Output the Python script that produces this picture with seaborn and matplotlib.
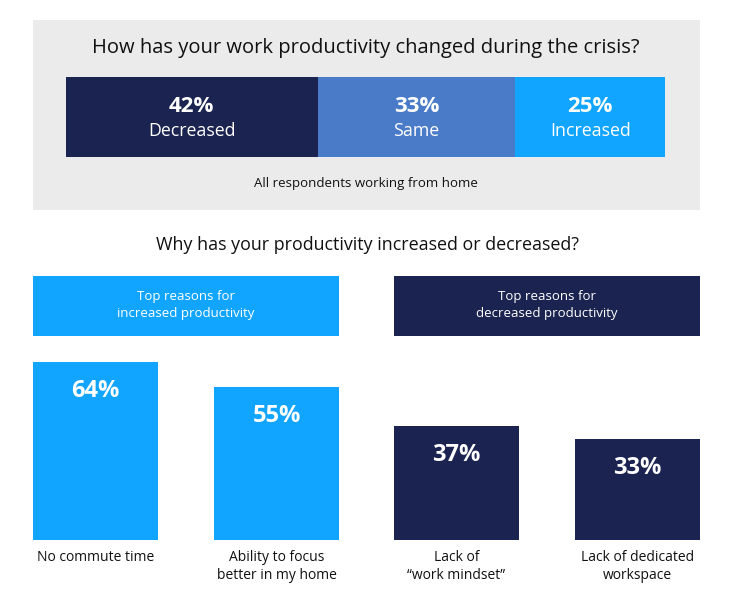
import numpy as np
import matplotlib
matplotlib.use("Agg")
import matplotlib.pyplot as plt
from matplotlib.patches import Rectangle
import seaborn as sns

# overall change in productivity (stacked bar)
split_labels = ["Decreased", "Same", "Increased"]
split_values = [42, 33, 25]

# reasons
inc_reasons = ["No commute time", "Ability to focus\nbetter in my home"]
inc_values = [64, 55]
dec_reasons = ["Lack of\n\u201cwork mindset\u201d", "Lack of dedicated\nworkspace"]
dec_values = [37, 33]

NAVY = "#1b2350"
MID = "#4a7bc8"
BRIGHT = "#12a5ff"
GREY = "#ebebeb"
INK = "#111111"

sns.set_theme(style="white")
plt.rcParams["font.family"] = ["Open Sans", "DejaVu Sans"]

W, H = 733, 600
fig = plt.figure(figsize=(W / 100, H / 100), dpi=100)


def px_axes(x0, y0, x1, y1):
    # axes placed by pixel box (top-left origin)
    return fig.add_axes([x0 / W, 1 - y1 / H, (x1 - x0) / W, (y1 - y0) / H])


# background layer: panels, headers, titles
bg = px_axes(0, 0, W, H)
bg.set_xlim(0, W)
bg.set_ylim(H, 0)
bg.axis("off")

bg.add_patch(Rectangle((33, 20), 667, 190, color=GREY, lw=0))
bg.text(366, 48, "How has your work productivity changed during the crisis?",
        ha="center", va="center", fontsize=14.5, color=INK)
bg.text(366, 183, "All respondents working from home",
        ha="center", va="center", fontsize=9.5, color=INK)
bg.text(367, 245, "Why has your productivity increased or decreased?",
        ha="center", va="center", fontsize=12.9, color=INK)

bg.add_patch(Rectangle((33, 276), 306, 60, color=BRIGHT, lw=0))
bg.text(186, 305, "Top reasons for\nincreased productivity", ha="center", va="center",
        fontsize=9.5, color="white", linespacing=1.45)
bg.add_patch(Rectangle((394, 276), 306, 60, color=NAVY, lw=0))
bg.text(547, 305, "Top reasons for\ndecreased productivity", ha="center", va="center",
        fontsize=9.5, color="white", linespacing=1.45)

# stacked bar
ax0 = px_axes(66, 77, 665, 157)
lefts = np.cumsum([0] + split_values[:-1])
ax0.barh(40, split_values, left=lefts, height=80, color=[NAVY, MID, BRIGHT], lw=0)
ax0.set_xlim(0, sum(split_values))
ax0.set_ylim(80, 0)
ax0.axis("off")
for l, v, lab in zip(lefts, split_values, split_labels):
    ax0.text(l + v / 2, 30, f"{v}%", ha="center", va="center",
             fontsize=16, fontweight="bold", color="white")
    ax0.text(l + v / 2, 54, lab, ha="center", va="center", fontsize=12.8, color="white")

# reason bars
w = 0.69
panels = [((33, 339), inc_reasons, inc_values, BRIGHT, 71.9),
          ((394, 700), dec_reasons, dec_values, NAVY, 65.1)]
for (x0, x1), cats, vals, col, top in panels:
    ax = px_axes(x0, 340, x1, 540)
    ax.patch.set_visible(False)
    sns.barplot(x=cats, y=vals, color=col, saturation=1, width=w, linewidth=0, ax=ax)
    ax.set_xlim(-w / 2, 1 + w / 2)
    ax.set_ylim(0, top)
    sns.despine(ax=ax, left=True, bottom=True)
    ax.set_yticks([])
    ax.set_ylabel("")
    ax.tick_params(axis="x", length=0, pad=7, labelsize=10, colors=INK)
    for t in ax.get_xticklabels():
        t.set_linespacing(1.3)
    for p, v in zip(ax.patches, vals):
        ax.annotate(f"{v}%", (p.get_x() + p.get_width() / 2, p.get_height()),
                    xytext=(0, -21), textcoords="offset points", ha="center", va="center",
                    fontsize=17, fontweight="bold", color="white")

fig.savefig("out.png", dpi=100)
